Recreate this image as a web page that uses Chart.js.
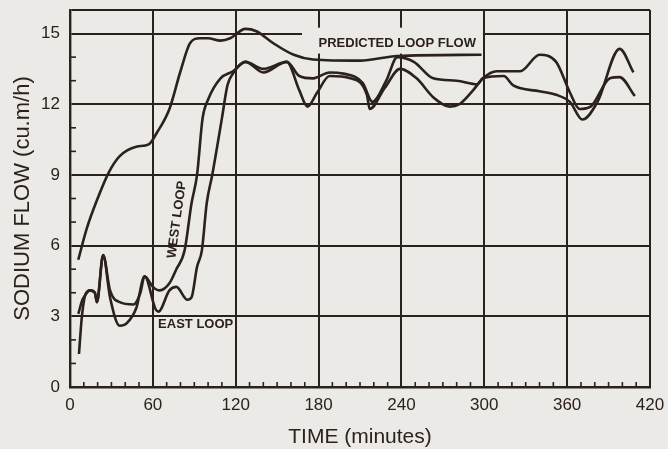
<!DOCTYPE html>
<html>
<head>
<meta charset="utf-8">
<script src="https://cdn.jsdelivr.net/npm/chart.js@4.4.1/dist/chart.umd.min.js"></script>
<style>
  html, body { margin: 0; padding: 0; background: #eceae7; }
  #wrap { width: 668px; height: 449px; position: relative; }
</style>
</head>
<body>
<div id="wrap"><canvas id="flowChart" width="668" height="449"></canvas></div>
<script>
// Sodium flow vs time
const predictedTime = [6, 12, 20, 28, 36, 48, 57, 63, 72, 80, 87, 94, 100, 109, 116, 127, 135, 147, 162, 176, 210, 237, 298];
const predictedFlow = [5.4, 6.7, 8.0, 9.1, 9.8, 10.2, 10.3, 10.8, 11.8, 13.4, 14.6, 14.8, 14.8, 14.7, 14.8, 15.2, 15.1, 14.6, 14.1, 13.9, 13.85, 14.05, 14.1];

const westTime = [6, 9, 11, 14.5, 18, 19.5, 24, 29, 36, 46, 51, 54, 60, 65, 72, 77, 83, 88, 92, 96, 100, 109, 118, 127, 140, 157, 166, 172, 179, 188, 203, 215, 217, 228, 239, 251, 263, 275, 282, 292, 299, 309, 326, 340, 352, 362, 369, 377, 391, 398, 409];
const westFlow = [3.1, 3.7, 3.9, 4.1, 4.0, 3.6, 5.6, 4.1, 3.6, 3.5, 4.0, 4.7, 4.25, 4.1, 4.4, 5.0, 5.8, 7.8, 9.0, 11.4, 12.2, 13.1, 13.4, 13.8, 13.5, 13.8, 12.6, 11.9, 12.5, 13.2, 13.1, 12.4, 11.8, 12.7, 13.5, 13.1, 12.3, 11.9, 12.0, 12.6, 13.1, 13.4, 13.4, 14.1, 13.8, 12.5, 11.8, 11.9, 13.1, 13.15, 12.35];

const eastTime = [6.5, 8, 9, 11, 14.5, 18, 19.5, 24, 29, 36, 41, 48, 54, 62, 64, 72, 77, 85, 88, 92, 95.5, 99, 103, 110, 114, 118, 127, 140, 157, 166, 176, 188, 198, 212, 219, 229, 237, 249, 263, 280, 295, 299, 314, 321, 340, 352, 362, 371, 382, 398, 408];
const eastFlow = [1.4, 2.6, 3.2, 3.9, 4.1, 4.0, 3.6, 5.6, 3.8, 2.6, 2.7, 3.35, 4.7, 3.3, 3.2, 4.1, 4.25, 3.7, 3.8, 5.1, 5.8, 7.8, 9.0, 11.4, 12.8, 13.3, 13.8, 13.35, 13.8, 13.2, 13.1, 13.35, 13.3, 12.9, 12.1, 13.0, 14.0, 13.8, 13.1, 13.0, 12.85, 13.1, 13.2, 12.8, 12.55, 12.4, 12.1, 11.35, 12.1, 14.35, 13.35];

const timeTicks = [0, 60, 120, 180, 240, 300, 360, 420];
const flowTicks = [0, 3, 6, 9, 12, 15];

const ink = '#2b211e';
const paper = '#eceae7';
const pts = (xs, ys) => xs.map((x, i) => ({ x: x, y: ys[i] }));

const lineStyle = {
    borderColor: ink,
    borderWidth: 2.6,
    pointRadius: 0,
    fill: false,
    cubicInterpolationMode: 'monotone',
};

// minor ticks, label box and curve labels
const decor = {
    id: 'decor',
    beforeDraw(chart) {
        const c = chart.ctx;
        c.save();
        c.fillStyle = paper;
        c.fillRect(0, 0, chart.width, chart.height);
        c.restore();
    },
    beforeDatasetsDraw(chart) {
        const c = chart.ctx;
        const xs = chart.scales.x, ys = chart.scales.y;
        const area = chart.chartArea;
        c.save();
        c.strokeStyle = ink;
        c.lineWidth = 1.6;
        for (let v = 1; v < 16; v++) {
            if (v % 3 === 0) continue;
            const py = ys.getPixelForValue(v);
            c.beginPath();
            c.moveTo(area.left, py);
            c.lineTo(area.left + 6, py);
            c.stroke();
        }
        for (let t = 10; t < 420; t += 10) {
            if (t % 60 === 0) continue;
            const px = xs.getPixelForValue(t);
            c.beginPath();
            c.moveTo(px, area.bottom);
            c.lineTo(px, area.bottom - 5);
            c.stroke();
        }
        // label box over the grid
        const bx0 = xs.getPixelForValue(168), bx1 = xs.getPixelForValue(299);
        const by0 = ys.getPixelForValue(15.25), by1 = ys.getPixelForValue(14.15);
        c.fillStyle = paper;
        c.fillRect(bx0, by0, bx1 - bx0, by1 - by0);
        c.fillStyle = ink;
        c.font = 'bold 13px "Liberation Sans", Arial, sans-serif';
        c.textAlign = 'center';
        c.textBaseline = 'middle';
        c.fillText('PREDICTED LOOP FLOW', xs.getPixelForValue(237), ys.getPixelForValue(14.6));
        c.fillText('EAST LOOP', xs.getPixelForValue(91), ys.getPixelForValue(2.65));
        c.translate(xs.getPixelForValue(77.5), ys.getPixelForValue(7.1));
        c.rotate(-82 * Math.PI / 180);
        c.fillText('WEST LOOP', 0, 0);
        c.restore();
    },
};

new Chart('flowChart', {
    type: 'line',
    data: {
        datasets: [
            { label: 'Predicted loop flow', data: pts(predictedTime, predictedFlow), ...lineStyle },
            { label: 'West loop', data: pts(westTime, westFlow), ...lineStyle },
            { label: 'East loop', data: pts(eastTime, eastFlow), ...lineStyle },
        ],
    },
    options: {
        responsive: false,
        animation: false,
        layout: { padding: { top: 10, right: 18, left: 0, bottom: 0 } },
        plugins: { legend: { display: false }, tooltip: { enabled: false } },
        scales: {
            x: {
                type: 'linear',
                min: 0,
                max: 420,
                afterFit: (s) => { s.height = 62; s.paddingLeft = 0; s.paddingRight = 0; },
                afterBuildTicks: (s) => { s.ticks = timeTicks.map((v) => ({ value: v })); },
                grid: { color: ink, lineWidth: 2, drawTicks: false },
                border: { color: ink, width: 2.4 },
                ticks: { color: ink, padding: 8, font: { family: '"Liberation Sans", Arial', size: 17 } },
                title: {
                    display: true,
                    text: 'TIME (minutes)',
                    color: ink,
                    padding: { top: 0, bottom: 1 },
                    font: { family: '"Liberation Sans", Arial', size: 21, lineHeight: 1 },
                },
            },
            y: {
                type: 'linear',
                min: 0,
                max: 16,
                afterFit: (s) => { s.width = 70; s.paddingTop = 0; s.paddingBottom = 0; },
                afterBuildTicks: (s) => { s.ticks = flowTicks.concat([16]).map((v) => ({ value: v })); },
                grid: { color: ink, lineWidth: 2, drawTicks: false },
                border: { color: ink, width: 2.4 },
                ticks: {
                    color: ink,
                    padding: 10,
                    font: { family: '"Liberation Sans", Arial', size: 17 },
                    callback: (v) => (v === 16 ? '' : v),
                },
                title: {
                    display: true,
                    text: 'SODIUM FLOW (cu.m/h)',
                    color: ink,
                    padding: { top: 12, bottom: 0 },
                    font: { family: '"Liberation Sans", Arial', size: 22, lineHeight: 1 },
                },
            },
        },
    },
    plugins: [decor],
});
</script>
</body>
</html>
